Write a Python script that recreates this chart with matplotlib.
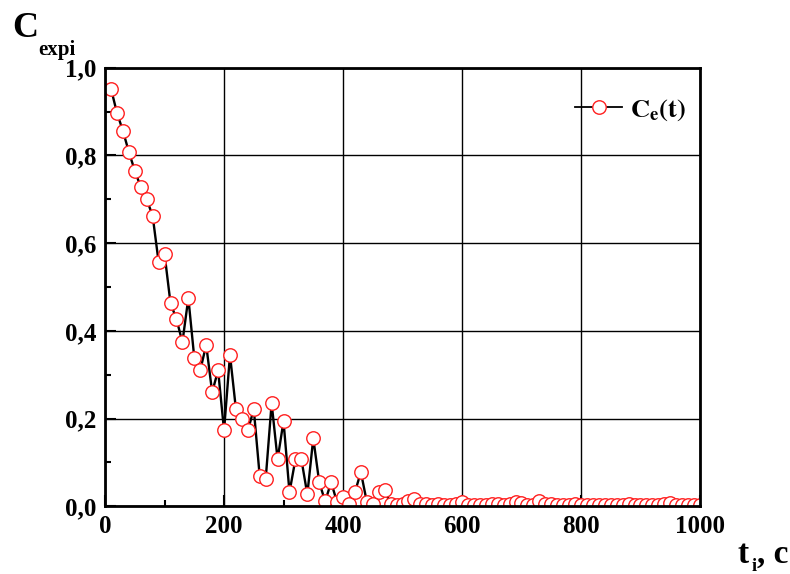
import matplotlib
matplotlib.use("Agg")
import matplotlib.pyplot as plt
from matplotlib.ticker import MultipleLocator, FuncFormatter

plt.rcParams['font.family'] = 'Liberation Serif'
plt.rcParams['font.weight'] = 'bold'
plt.rcParams['mathtext.fontset'] = 'stix'

# time, s
t = list(range(10, 1001, 10))

# measured concentration
c = [0.952, 0.897, 0.856, 0.808, 0.765, 0.728, 0.700, 0.662, 0.557, 0.575,
     0.463, 0.427, 0.374, 0.475, 0.338, 0.310, 0.368, 0.260, 0.310, 0.173,
     0.345, 0.221, 0.200, 0.173, 0.221, 0.068, 0.062, 0.235, 0.107, 0.194,
     0.032, 0.107, 0.107, 0.027, 0.155, 0.055, 0.011, 0.055, 0.009, 0.020,
     0.006, 0.032, 0.078, 0.010, 0.006, 0.032, 0.036, 0.005, 0.004, 0.005,
     0.012, 0.016, 0.006, 0.005, 0.004, 0.005, 0.004, 0.003, 0.005, 0.010,
     0.004, 0.003, 0.004, 0.004, 0.006, 0.005, 0.004, 0.006, 0.010, 0.008,
     0.004, 0.004, 0.012, 0.005, 0.006, 0.004, 0.003, 0.004, 0.005, 0.004,
     0.003, 0.004, 0.004, 0.003, 0.004, 0.003, 0.004, 0.005, 0.003, 0.004,
     0.004, 0.003, 0.004, 0.005, 0.008, 0.004, 0.003, 0.004, 0.003, 0.003]

fig = plt.figure(figsize=(7.9, 5.74), dpi=100)
ax = fig.add_axes([0.133, 0.118, 0.753, 0.764])

ax.plot(t, c, color='black', lw=1.7, marker='o', markersize=9.7,
        markerfacecolor='white', markeredgecolor='#ff2020', markeredgewidth=1.0,
        label=r'$\mathbf{C_e(t)}$')

ax.set_xlim(0, 1000)
ax.set_ylim(0, 1.0)
ax.xaxis.set_major_locator(MultipleLocator(200))
ax.xaxis.set_minor_locator(MultipleLocator(100))
ax.yaxis.set_major_locator(MultipleLocator(0.2))
ax.yaxis.set_minor_locator(MultipleLocator(0.1))
ax.yaxis.set_major_formatter(FuncFormatter(lambda v, p: ('%.1f' % v).replace('.', ',')))
ax.grid(True, which='major', color='black', lw=1.0)
ax.set_axisbelow(True)

ax.tick_params(which='both', direction='in', top=False, right=False,
               labelsize=18, width=1.5)
ax.tick_params(which='major', length=8, pad=6)
ax.tick_params(which='minor', length=4)
for lab in ax.get_xticklabels() + ax.get_yticklabels():
    lab.set_fontweight('bold')
for s in ax.spines.values():
    s.set_linewidth(2)

leg = ax.legend(loc='center left', bbox_to_anchor=(0.75, 0.904), frameon=False,
                fontsize=19, markerscale=1.0, handlelength=1.8, handletextpad=0.3)
leg.get_lines()[0].set_linewidth(1.3)

fig.text(0.015, 0.935, 'C', fontsize=26, fontweight='bold')
fig.text(0.048, 0.905, 'expi', fontsize=15, fontweight='bold')
fig.text(0.933, 0.02, 't', fontsize=24, fontweight='bold')
fig.text(0.951, 0.005, 'i', fontsize=13, fontweight='bold')
fig.text(0.958, 0.02, ', c', fontsize=24, fontweight='bold')

fig.savefig('out.png', dpi=100)
